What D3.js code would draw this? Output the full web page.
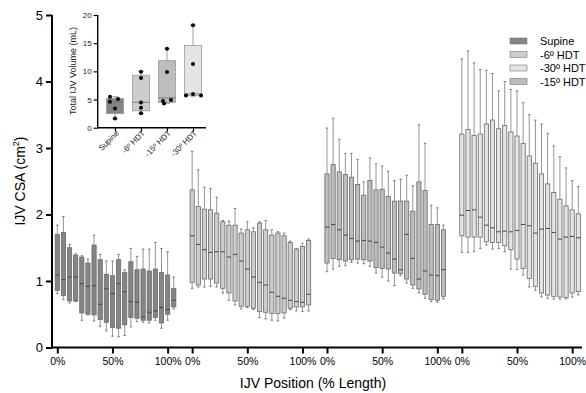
<!DOCTYPE html>
<html><head><meta charset="utf-8">
<script src="https://cdn.jsdelivr.net/npm/d3@7"></script>
<style>body{margin:0;background:#fff}svg{display:block}text{font-family:"Liberation Sans",Arial,sans-serif}</style>
</head><body>
<svg id="c" width="586" height="393"></svg>
<script>
// ---------- data ----------
const conditions = ["Supine", "-6º HDT", "-15º HDT", "-30º HDT"];
const legendOrder = ["Supine", "-6º HDT", "-30º HDT", "-15º HDT"];
const positionTickLabels = ["0%", "50%", "100%"];
const positionTickIndex = [0, 9, 18];   // box index where each % label sits
const yTicks = [0, 1, 2, 3, 4, 5];
// each box: [min, q1, median, q3, max]  (cm^2), 20 positions along the IJV
const supineCSA = [
  [0.81,0.86,1.09,1.70,1.84],[0.72,0.78,1.02,1.73,1.97],[0.67,0.70,1.06,1.50,1.55],[0.69,0.70,1.06,1.39,1.41],
  [0.41,0.52,0.96,1.36,1.38],[0.49,0.50,0.92,1.27,1.33],[0.40,0.49,0.93,1.54,1.69],[0.32,0.42,0.65,1.32,1.40],
  [0.25,0.38,0.88,1.10,1.30],[0.17,0.30,0.81,1.08,1.30],[0.16,0.29,0.96,1.32,1.40],[0.18,0.34,0.84,1.13,1.17],
  [0.31,0.45,0.69,1.29,1.49],[0.39,0.44,0.68,1.17,1.37],[0.38,0.41,0.46,1.18,1.48],[0.37,0.41,0.53,1.15,1.48],
  [0.41,0.45,0.55,1.18,1.58],[0.29,0.37,0.60,1.13,1.49],[0.41,0.50,0.57,1.09,1.44],[0.58,0.61,0.71,0.89,1.06]
];
const hdt6CSA = [
  [0.89,0.98,1.68,2.37,2.95],[0.91,0.94,1.55,2.12,2.67],[0.91,1.03,1.47,2.08,2.41],[0.92,1.03,1.43,2.07,2.39],
  [0.91,0.97,1.44,2.02,2.26],[0.82,0.89,1.44,1.89,1.91],[0.71,0.82,1.36,1.84,1.90],[0.64,0.70,1.40,1.84,2.09],
  [0.58,0.62,1.30,1.72,1.78],[0.60,0.62,1.18,1.77,1.89],[0.57,0.59,1.06,1.74,1.80],[0.45,0.54,0.98,1.87,1.89],
  [0.43,0.53,0.94,1.77,1.91],[0.41,0.51,0.83,1.69,1.77],[0.40,0.51,0.77,1.72,1.74],[0.44,0.52,0.74,1.68,1.72],
  [0.57,0.59,0.71,1.58,1.60],[0.55,0.61,0.69,1.48,1.49],[0.54,0.61,0.68,1.52,1.57],[0.55,0.64,0.80,1.61,1.63]
];
const hdt15CSA = [
  [1.14,1.27,1.81,2.61,3.30],[1.18,1.34,1.85,2.75,3.45],[1.22,1.32,1.77,2.64,3.13],[1.23,1.30,1.69,2.60,2.92],
  [1.28,1.32,1.64,2.56,2.92],[1.27,1.33,1.60,2.45,2.83],[1.26,1.32,1.61,2.29,2.49],[1.22,1.30,1.60,2.51,2.85],
  [1.12,1.20,1.58,2.37,2.76],[1.06,1.19,1.51,2.38,2.73],[1.00,1.18,1.42,2.27,2.65],[0.93,1.12,1.33,2.20,2.51],
  [1.08,1.11,1.17,2.20,2.53],[0.97,1.03,1.70,2.20,2.59],[0.89,0.94,1.34,2.05,2.43],[0.82,0.88,1.03,2.49,3.35],
  [0.74,0.80,1.15,2.36,3.07],[0.69,0.72,1.09,1.85,2.14],[0.68,0.71,1.08,1.85,2.10],[0.73,0.77,1.17,1.77,1.84]
];
const hdt30CSA = [
  [1.43,1.68,1.99,3.21,4.34],[1.43,1.66,2.06,3.28,4.46],[1.44,1.66,2.07,3.19,4.28],[1.49,1.66,1.96,3.21,4.18],
  [1.54,1.59,1.84,3.36,4.17],[1.48,1.58,1.80,3.42,4.12],[1.49,1.58,1.74,3.29,3.86],[1.44,1.53,1.75,3.34,4.00],
  [1.18,1.47,1.74,3.24,3.88],[1.17,1.33,1.76,3.18,3.86],[1.09,1.19,1.85,3.07,3.68],[0.91,1.04,1.83,2.88,3.50],
  [0.86,0.92,1.72,2.77,3.42],[0.76,0.82,1.78,2.61,3.36],[0.74,0.79,1.79,2.46,3.22],[0.73,0.77,1.73,2.33,3.03],
  [0.73,0.76,1.63,2.23,2.87],[0.73,0.75,1.66,2.13,2.70],[0.76,0.82,1.67,2.07,2.51],[0.79,0.84,1.65,2.01,2.42]
];
const groupCSA = [supineCSA, hdt6CSA, hdt15CSA, hdt30CSA];
// inset: total IJV volume (mL)
const volumeTicks = [0, 5, 10, 15, 20];
const volumeBoxes = [ // [min, q1, median, q3, max]
  [1.6, 2.5, 4.6, 5.2, 5.5],
  [2.5, 3.0, 4.5, 9.3, 10.0],
  [4.3, 4.5, 5.3, 11.9, 14.0],
  [5.6, 5.7, 6.0, 14.6, 18.2]
];
const supineVol = [5.5, 5.1, 4.6, 3.4, 1.65];
const hdt6Vol = [9.95, 8.8, 4.45, 3.55, 2.55];
const hdt15Vol = [14.0, 9.9, 4.9, 4.75, 4.3];
const hdt30Vol = [18.2, 11.3, 6.0, 5.7, 5.7];
const volumePoints = [supineVol, hdt6Vol, hdt15Vol, hdt30Vol];

// ---------- style ----------
const fills = {"Supine": "#858585", "-6º HDT": "#cdcdcd", "-15º HDT": "#bdbdbd", "-30º HDT": "#e4e4e4"};
const jitter = [[-5, 3, -5, 0, 0], [0, 0, 0, 0, 0], [0, 0, 4, -4, -3], [0, 0, 0, -7, 8]];

const svg = d3.select("#c");

// ---------- main chart ----------
const slotsPerGroup = 22;
const nBoxes = 20;
const x = d3.scaleLinear().domain([0, 3 * slotsPerGroup + nBoxes - 1]).range([57.3, 578.3]);
const y = d3.scaleLinear().domain([0, 5]).range([347.5, 15]);
const bw = 4.2;

const boxes = [];
groupCSA.forEach((arr, g) => arr.forEach((d, i) => boxes.push({g, i, slot: g * slotsPerGroup + i, v: d, c: conditions[g]})));

const bg = svg.append("g").selectAll("g").data(boxes).join("g");
bg.append("line").attr("x1", d => x(d.slot)).attr("x2", d => x(d.slot))
  .attr("y1", d => y(d.v[0])).attr("y2", d => y(d.v[4])).attr("stroke", "#7a7a7a").attr("stroke-width", 0.8);
bg.selectAll(".cap").data(d => [d, d].map((e, k) => ({slot: e.slot, val: e.v[k ? 4 : 0]}))).join("line")
  .attr("x1", d => x(d.slot) - 1.2).attr("x2", d => x(d.slot) + 1.2)
  .attr("y1", d => y(d.val)).attr("y2", d => y(d.val)).attr("stroke", "#6a6a6a").attr("stroke-width", 0.9);
bg.append("rect").attr("x", d => x(d.slot) - bw / 2).attr("width", bw)
  .attr("y", d => y(d.v[3])).attr("height", d => y(d.v[1]) - y(d.v[3]))
  .attr("fill", d => fills[d.c]).attr("stroke", "#6a6a6a").attr("stroke-width", 0.8);
bg.append("line").attr("x1", d => x(d.slot) - bw / 2).attr("x2", d => x(d.slot) + bw / 2)
  .attr("y1", d => y(d.v[2])).attr("y2", d => y(d.v[2])).attr("stroke", "#444").attr("stroke-width", 1);

// axes
const yAxis = svg.append("g").attr("transform", "translate(52,0)")
  .call(d3.axisLeft(y).tickValues(yTicks).tickSize(6).tickPadding(3).tickFormat(d3.format("d")));
yAxis.select(".domain").attr("stroke-width", 2).attr("d", `M0,${y(5)}V${y(0) + 1}`);
yAxis.selectAll(".tick line").attr("stroke-width", 2);
yAxis.selectAll(".tick text").attr("font-size", 13).attr("fill", "#000");

const xTickSlots = [];
const xTickText = [];
conditions.forEach((c, g) => positionTickIndex.forEach((p, k) => {xTickSlots.push(g * slotsPerGroup + p); xTickText.push(positionTickLabels[k]);}));
const xAxis = svg.append("g").attr("transform", `translate(0,${y(0)})`)
  .call(d3.axisBottom(x).tickValues(xTickSlots).tickSize(6).tickPadding(4).tickFormat((d, i) => xTickText[i]));
xAxis.select(".domain").remove();
xAxis.selectAll(".tick line").attr("stroke-width", 2);
xAxis.selectAll(".tick text").attr("font-size", 10.5).attr("fill", "#000");
svg.append("line").attr("x1", 51).attr("x2", 582).attr("y1", y(0)).attr("y2", y(0)).attr("stroke", "#000").attr("stroke-width", 2);

svg.append("text").attr("x", 313).attr("y", 388).attr("text-anchor", "middle").attr("font-size", 14).text("IJV Position (% Length)");
const yt = svg.append("text").attr("transform", "translate(25,181) rotate(-90)").attr("text-anchor", "middle").attr("font-size", 14);
yt.append("tspan").text("IJV CSA (cm");
yt.append("tspan").attr("font-size", 9).attr("dy", -6).text("2");
yt.append("tspan").attr("dy", 6).text(")");

// legend
const lg = svg.append("g").selectAll("g").data(legendOrder).join("g")
  .attr("transform", (d, i) => `translate(510,${41 + i * 13.5})`);
lg.append("rect").attr("x", 0).attr("y", -3).attr("width", 17).attr("height", 6)
  .attr("fill", d => fills[d]).attr("stroke", "#777").attr("stroke-width", 0.6);
lg.append("text").attr("x", 30).attr("y", 4).attr("font-size", 11).text(d => d);

// ---------- inset ----------
const ix = d3.scalePoint().domain(conditions).range([115, 193]);
const iy = d3.scaleLinear().domain([0, 20]).range([127.7, 15]);
const ibw = 17;
const ig = svg.append("g");
const ib = ig.selectAll("g.ib").data(volumeBoxes).join("g");
ib.append("line").attr("x1", (d, i) => ix(conditions[i])).attr("x2", (d, i) => ix(conditions[i]))
  .attr("y1", d => iy(d[0])).attr("y2", d => iy(d[4])).attr("stroke", "#888").attr("stroke-width", 0.8);
ib.selectAll(".cap").data((d, i) => [[i, d[0]], [i, d[4]]]).join("line")
  .attr("x1", d => ix(conditions[d[0]]) - 3).attr("x2", d => ix(conditions[d[0]]) + 3)
  .attr("y1", d => iy(d[1])).attr("y2", d => iy(d[1])).attr("stroke", "#888").attr("stroke-width", 0.8);
ib.append("rect").attr("x", (d, i) => ix(conditions[i]) - ibw / 2).attr("width", ibw)
  .attr("y", d => iy(d[3])).attr("height", d => iy(d[1]) - iy(d[3]))
  .attr("fill", (d, i) => fills[conditions[i]]).attr("stroke", "#999").attr("stroke-width", 0.8);
ib.append("line").attr("x1", (d, i) => ix(conditions[i]) - ibw / 2).attr("x2", (d, i) => ix(conditions[i]) + ibw / 2)
  .attr("y1", d => iy(d[2])).attr("y2", d => iy(d[2])).attr("stroke", "#777").attr("stroke-width", 0.9);
volumePoints.forEach((pts, g) => {
  ig.selectAll(null).data(pts).join("circle")
    .attr("cx", (d, k) => ix(conditions[g]) + jitter[g][k]).attr("cy", d => iy(d)).attr("r", 2).attr("fill", "#000");
});
const iya = ig.append("g").attr("transform", "translate(97.7,0)")
  .call(d3.axisLeft(iy).tickValues(volumeTicks).tickSize(4).tickPadding(2));
iya.select(".domain").attr("stroke-width", 1.4).attr("d", `M0,${iy(20)}V${iy(0)}`);
iya.selectAll(".tick line").attr("stroke-width", 1.2);
iya.selectAll(".tick text").attr("font-size", 8).attr("fill", "#222");
const ixa = ig.append("g").attr("transform", `translate(0,${iy(0)})`)
  .call(d3.axisBottom(ix).tickSize(4).tickPadding(2));
ixa.select(".domain").remove();
ixa.selectAll(".tick line").attr("stroke-width", 1.2);
ixa.selectAll(".tick text").attr("font-size", 8).attr("fill", "#222")
  .attr("text-anchor", "end").attr("transform", "translate(2,4) rotate(-45)").attr("dy", "0.35em").attr("y", 0).attr("x", 0);
ig.append("line").attr("x1", 97).attr("x2", 206).attr("y1", iy(0)).attr("y2", iy(0)).attr("stroke", "#000").attr("stroke-width", 1.4);
ig.append("text").attr("transform", "translate(76,71) rotate(-90)").attr("text-anchor", "middle")
  .attr("font-size", 9).attr("fill", "#222").text("Total IJV Volume (mL)");
</script>
</body></html>
